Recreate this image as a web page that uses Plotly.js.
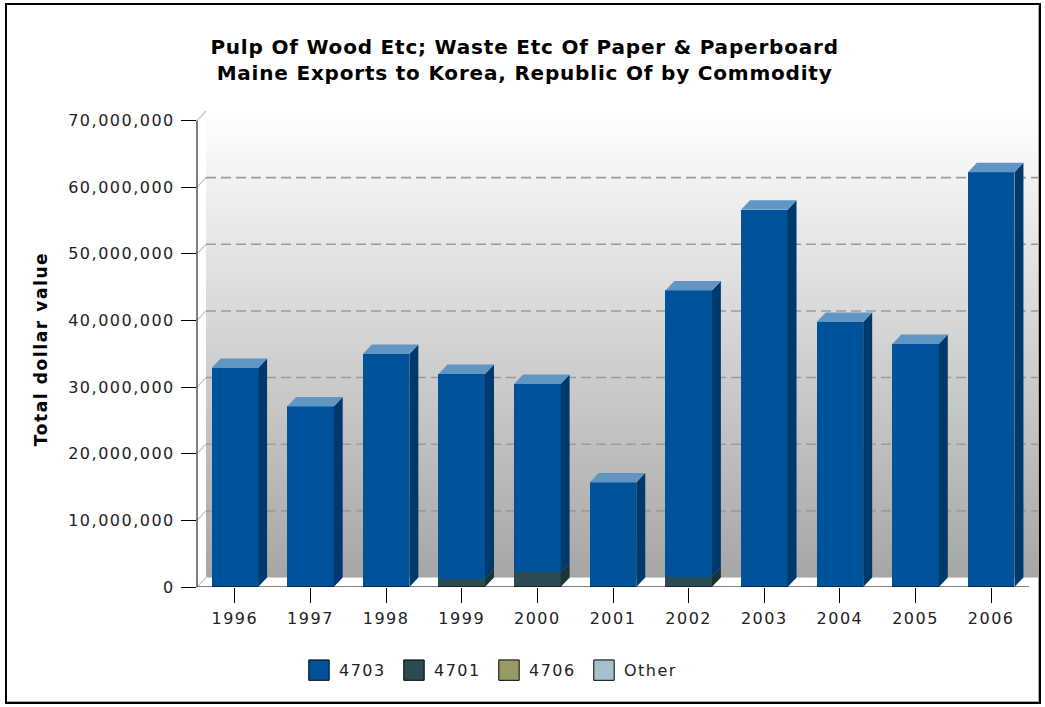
<!DOCTYPE html>
<html>
<head>
<meta charset="utf-8">
<script src="https://cdn.plot.ly/plotly-3.0.1.min.js"></script>
<style>
html,body{margin:0;padding:0;background:#fff;}
#wrap{position:relative;width:1045px;height:707px;overflow:hidden;}
#chart{width:1045px;height:707px;}
#frame{position:absolute;left:5px;top:3px;width:1032px;height:697px;border:2px solid #000;pointer-events:none;box-shadow:inset -1px -1px 0 #aaa;}
.xtick text,.ytick text{letter-spacing:1.5px;}
.gtitle{letter-spacing:0.8px;}
.ytitle{letter-spacing:1.6px;}
.legendtext{letter-spacing:1.5px;}
.legend .legendpoints path{transform:translate(20px,0px) scale(1.7);stroke:#000 !important;stroke-width:1px !important;vector-effect:non-scaling-stroke;}
</style>
</head>
<body>
<div id="wrap"><div id="chart"></div><div id="frame"></div></div>
<script>
// ---- data ----
const years = ['1996','1997','1998','1999','2000','2001','2002','2003','2004','2005','2006'];
const s4703 = [32850000, 27090000, 34950000, 30700000, 28250000, 15690000, 42950000, 56600000, 39750000, 36450000, 62250000];
const s4701 = [0, 0, 0, 1250000, 2200000, 0, 1550000, 0, 0, 0, 0];
const s4706 = [0, 0, 0, 0, 0, 0, 0, 0, 0, 0, 0];
const sOther = [0, 0, 0, 0, 0, 0, 0, 0, 0, 0, 0];
const yTickVals = [0, 10000000, 20000000, 30000000, 40000000, 50000000, 60000000, 70000000];
const yTickLabels = ['0','10,000,000','20,000,000','30,000,000','40,000,000','50,000,000','60,000,000','70,000,000'];

// ---- styling / 3D geometry ----
const DX = 0.119;        // depth offset in category units
const DY = 1425000;      // depth offset in value units
const BW = 0.615;        // bar width
const YMAX = 70000000;
const xs = years.map((_, i) => i);

// stacking order bottom -> top
const series = [
  {name:'4701', vals:s4701, front:'#2a4b51', side:'#1b3337', top:'#54737a', rank:2},
  {name:'4703', vals:s4703, front:'#00539b', side:'#003a6c', top:'#6196c4', rank:1},
  {name:'4706', vals:s4706, front:'#999966', side:'#6e6e46', top:'#bcbc94', rank:3},
  {name:'Other', vals:sOther, front:'#a3c1c9', side:'#7b9aa2', top:'#c8dbe0', rank:4}
];

const traces = [];
const bases = xs.map(() => 0);
const topOwner = xs.map(() => -1);
const segBase = [];
series.forEach((s, k) => {
  segBase.push(bases.slice());
  traces.push({
    type:'bar', name:s.name, x:xs, y:s.vals, width:BW,
    marker:{color:s.front, line:{width:0}}, legendrank:s.rank,
    hoverinfo:'x+y+name'
  });
  s.vals.forEach((v, i) => { if (v > 0) { bases[i] += v; topOwner[i] = k; } });
});

// side faces
series.forEach((s, k) => {
  const px = [], py = [];
  s.vals.forEach((v, i) => {
    if (v <= 0) return;
    const b = segBase[k][i], t = b + v, r = i + BW / 2;
    px.push(r, r + DX, r + DX, r, r, null);
    py.push(b, b + DY, t + DY, t, b, null);
  });
  if (px.length) traces.push({type:'scatter', mode:'lines', x:px, y:py, fill:'toself',
    fillcolor:s.side, line:{width:0, color:s.side}, showlegend:false, hoverinfo:'skip'});
});
// top faces
series.forEach((s, k) => {
  const px = [], py = [];
  xs.forEach(i => {
    if (topOwner[i] !== k) return;
    const t = bases[i], l = i - BW / 2, r = i + BW / 2;
    px.push(l, l + DX, r + DX, r, l, null);
    py.push(t, t + DY, t + DY, t, t, null);
  });
  if (px.length) traces.push({type:'scatter', mode:'lines', x:px, y:py, fill:'toself',
    fillcolor:s.top, line:{width:0, color:s.top}, showlegend:false, hoverinfo:'skip'});
});

// back wall gradient (overlapping bands, bottom first), grid lines, axis lines
const shapes = [];
const N = 120;
for (let k = 0; k < N; k++) {
  const f = (k + 0.5) / N;               // 0 bottom -> 1 top
  const g = Math.round(166 + (255 - 166) * f);
  shapes.push({type:'rect', layer:'below', xref:'x', yref:'y',
    x0:-0.5 + DX, x1:10.5 + DX, y0:DY + YMAX * k / N, y1:DY + YMAX,
    fillcolor:`rgb(${g},${g},${g})`, line:{width:0}});
}
yTickVals.forEach(v => {
  shapes.push({type:'line', layer:'below', xref:'x', yref:'y', x0:-0.5, x1:-0.5 + DX, y0:v, y1:v + DY,
    line:{color:'#c4c4c4', width:1.2}});
  if (v > 0 && v < YMAX) {
    shapes.push({type:'line', layer:'below', xref:'x', yref:'y', x0:-0.5 + DX, x1:10.5 + DX, y0:v + DY, y1:v + DY,
      line:{color:'#9c9c9c', width:1.6, dash:'10px,5px'}});
  }
});
shapes.push({type:'line', layer:'above', xref:'x', yref:'y', x0:-0.5, x1:10.5, y0:0, y1:0, line:{color:'#000', width:1}});
shapes.push({type:'line', layer:'above', xref:'paper', yref:'y', x0:0, x1:0, y0:0, y1:YMAX, line:{color:'#000', width:1}});

const layout = {
  width:1045, height:707,
  margin:{l:197, r:7, t:111, b:120, pad:0},
  paper_bgcolor:'#fff', plot_bgcolor:'rgba(0,0,0,0)',
  font:{family:'DejaVu Sans', size:16, color:'#222'},
  barmode:'stack', bargap:0,
  showlegend:true,
  title:{text:'Pulp Of Wood Etc; Waste Etc Of Paper & Paperboard<br>Maine Exports to Korea, Republic Of by Commodity',
    xref:'container', x:0.502, xanchor:'center', yref:'container', y:0.9236, yanchor:'middle',
    font:{family:'DejaVu Sans', size:20, weight:'bold', color:'#000'}},
  xaxis:{range:[-0.5, 10.5 + DX], tickvals:xs, ticktext:years, ticks:'outside', ticklen:15, tickcolor:'#000', tickwidth:1,
    ticklabelstandoff:2,
    showline:false, showgrid:false, zeroline:false, fixedrange:true, tickfont:{size:16, color:'#222'}},
  yaxis:{range:[0, YMAX + DY], tickvals:yTickVals, ticktext:yTickLabels, ticks:'outside', ticklen:15, tickcolor:'#000', tickwidth:1,
    ticklabelstandoff:3,
    showline:false, showgrid:false, zeroline:false, fixedrange:true, tickfont:{size:16, color:'#222'},
    title:{text:'Total dollar value', standoff:16, font:{family:'DejaVu Sans', size:17, weight:'bold', color:'#000'}}},
  legend:{orientation:'h', xref:'container', yref:'container', x:0.2861, xanchor:'left', y:0.052, yanchor:'middle',
    entrywidth:50, entrywidthmode:'pixels', font:{size:16, color:'#222'}, traceorder:'normal', itemclick:false, itemdoubleclick:false},
  shapes:shapes
};
Plotly.newPlot('chart', traces, layout, {displayModeBar:false, staticPlot:true});
</script>
</body>
</html>
